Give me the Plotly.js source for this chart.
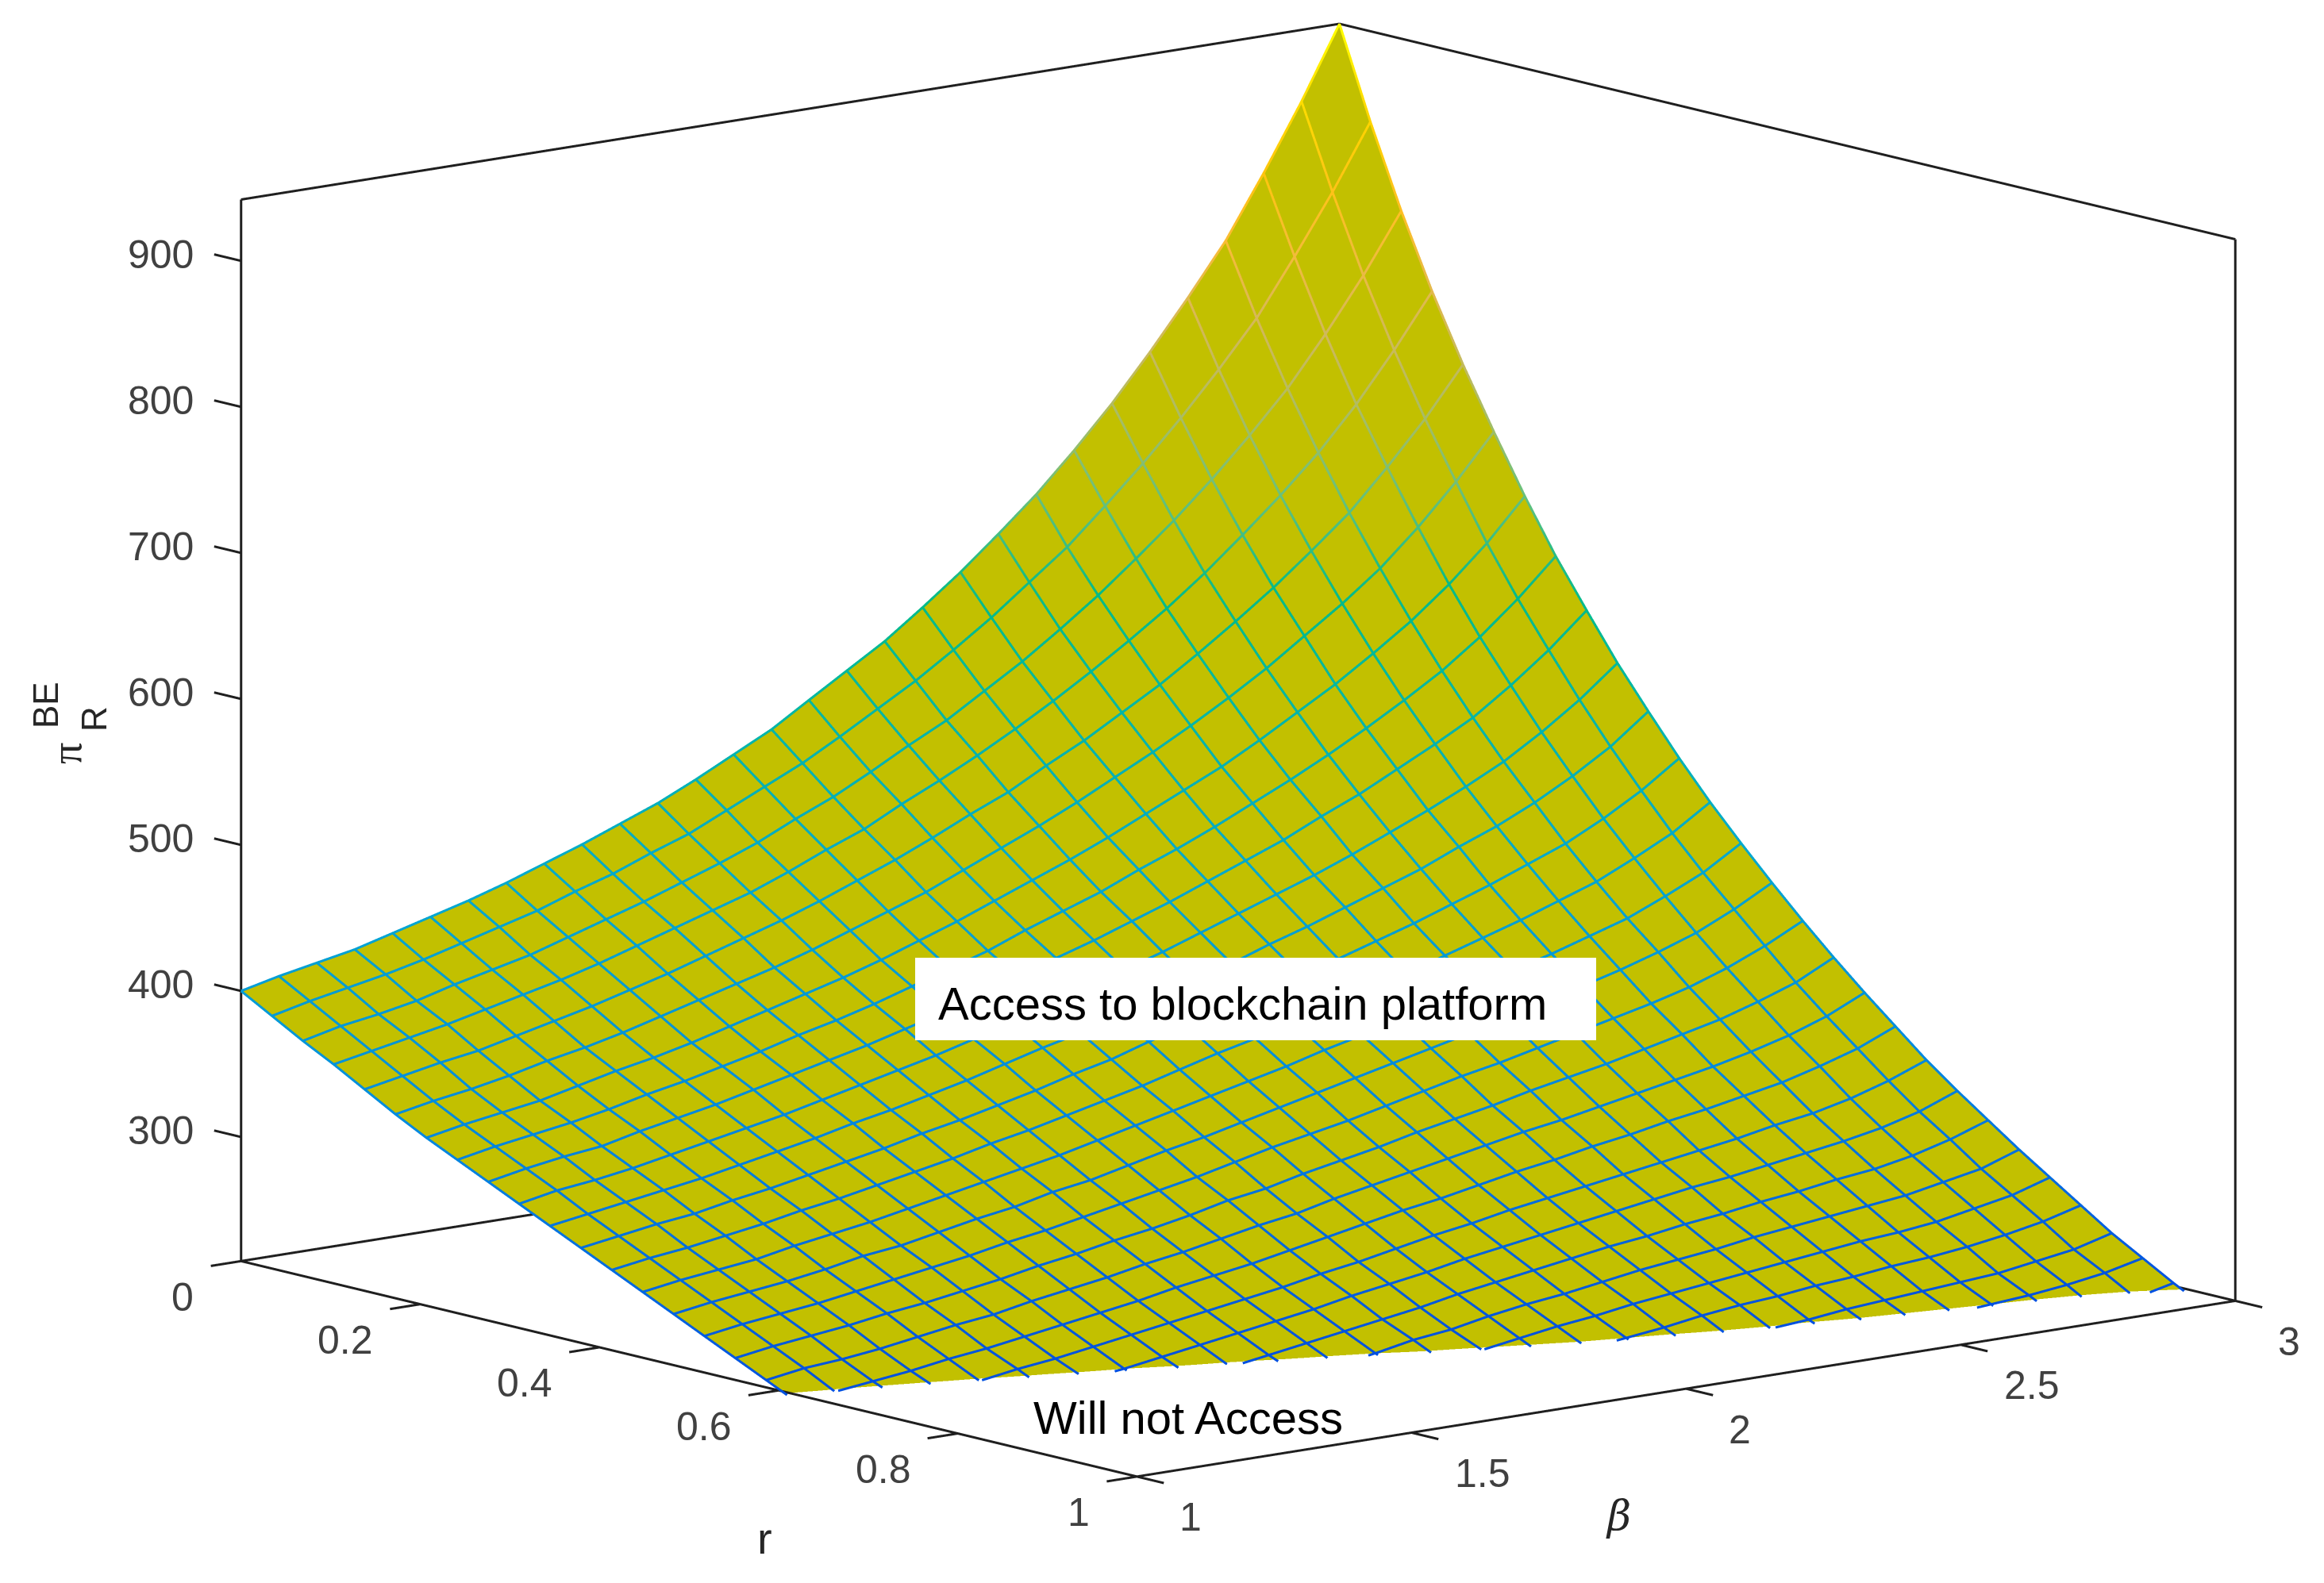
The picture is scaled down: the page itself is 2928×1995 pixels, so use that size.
<!DOCTYPE html>
<html>
<head>
<meta charset="utf-8">
<script src="https://cdn.plot.ly/plotly-3.0.1.min.js"></script>
<style>html,body{margin:0;padding:0;background:#fff}#chart{width:2928px;height:1995px}</style>
</head>
<body>
<div id="chart"></div>
<script>
var rValues = [0,.0345,.069,.1034,.1379,.1724,.2069,.2414,.2759,.3103,.3448,.3793,.4138,.4483,.4828,.5172,.5517,.5862,.6207,.6552,.6897,.7241,.7586,.7931,.8276,.8621,.8966,.931,.9655,1]
var betaValues = [1,1.069,1.138,1.207,1.276,1.345,1.414,1.483,1.552,1.621,1.69,1.759,1.828,1.897,1.966,2.034,2.103,2.172,2.241,2.31,2.379,2.448,2.517,2.586,2.655,2.724,2.793,2.862,2.931,3]
// one row per beta value, one column per r value
var profit = [
[400,388,376,365,353,341,330,320,310,300,290,280,270,260,250,240,230,220,210,201,192,183,175,167,160,153,146,139,133,127],
[406,394,382,370,358,346,335,325,315,305,294,284,274,264,254,244,234,224,213,204,195,186,178,170,163,156,149,142,135,129],
[411,399,386,375,363,350,339,329,319,308,298,288,277,267,257,247,237,226,216,207,198,189,181,172,165,158,151,144,137,131],
[416,404,391,380,367,355,343,333,322,312,302,291,281,270,260,250,240,229,219,210,200,191,183,175,167,160,153,146,139,133],
[423,410,398,386,373,361,349,338,328,317,306,296,285,275,264,254,244,233,223,213,204,195,186,178,170,163,156,148,142,136],
[430,417,404,392,379,366,355,344,333,322,311,300,290,279,269,258,247,237,226,217,207,198,190,181,173,166,158,151,144,138],
[437,424,410,398,385,372,360,349,338,327,316,305,294,283,272,262,251,240,230,220,211,201,193,184,176,168,161,153,147,140],
[445,431,418,405,392,379,366,355,344,332,321,310,299,288,277,266,255,245,234,224,214,205,196,187,179,171,164,156,149,143],
[454,440,426,413,399,386,373,361,350,338,327,315,304,293,282,271,260,249,238,228,218,209,200,191,183,175,167,159,152,145],
[463,448,434,421,407,393,380,368,356,344,332,321,309,298,286,275,264,253,242,232,222,212,203,194,186,178,170,162,155,148],
[473,458,443,429,415,400,387,374,362,350,338,326,315,303,292,280,269,258,247,236,226,216,207,198,189,181,173,165,158,151],
[483,467,452,437,423,408,394,381,369,356,344,332,320,308,296,285,273,262,251,240,230,220,210,201,193,184,176,168,160,153],
[495,479,462,447,432,417,402,389,376,363,351,338,326,314,302,290,278,267,255,244,234,224,214,205,196,187,179,171,163,156],
[508,491,474,458,442,426,411,397,384,371,358,345,332,320,308,295,284,272,260,249,239,228,219,209,200,191,183,174,167,159],
[521,503,485,468,452,435,420,405,392,378,364,351,338,326,313,301,288,276,265,253,243,232,222,213,203,194,186,177,169,161],
[537,517,498,481,463,446,430,415,401,386,372,359,345,332,319,307,294,282,270,258,247,237,227,217,207,198,189,180,172,164],
[553,532,512,493,475,457,440,424,409,394,380,366,352,338,325,312,299,287,275,263,252,241,231,221,211,201,192,183,175,167],
[569,547,525,506,486,468,450,433,418,402,387,372,358,344,331,317,304,292,279,267,256,245,234,224,214,204,195,186,178,169],
[588,564,541,520,500,480,461,444,427,411,395,380,365,351,337,323,310,297,284,272,260,249,238,228,217,207,198,189,180,172],
[608,582,557,535,513,493,473,454,437,420,404,388,372,357,343,329,315,302,289,276,264,253,242,231,221,210,201,191,183,174],
[630,602,575,551,528,506,485,465,447,429,412,395,379,364,349,335,320,307,293,280,268,256,245,234,224,213,203,194,185,176],
[653,622,594,568,543,520,497,477,457,438,421,403,386,371,355,340,326,311,298,284,272,260,248,237,226,215,206,196,187,178],
[679,646,615,586,560,535,511,489,469,448,430,411,394,378,362,346,331,316,302,288,276,263,252,240,229,218,208,198,189,179],
[707,671,637,606,578,551,526,502,480,459,439,420,402,385,368,352,336,321,307,292,279,267,255,243,231,220,210,199,190,181],
[738,698,661,628,597,569,541,516,493,470,450,429,410,392,375,358,342,326,311,296,283,270,258,246,234,222,212,201,192,182],
[771,727,687,651,618,587,558,531,506,482,460,439,419,400,382,364,348,331,316,301,287,274,261,248,236,224,214,203,193,183],
[806,758,715,676,640,607,576,547,520,495,472,449,428,408,390,371,354,337,321,305,291,277,264,251,239,226,216,205,195,185],
[848,796,748,705,667,631,597,566,538,511,486,462,440,419,399,380,362,344,328,311,296,282,269,256,243,230,219,207,197,187],
[893,836,784,738,696,658,621,588,558,529,502,477,453,431,411,391,371,353,336,319,303,289,274,261,248,234,223,211,200,190],
[942,880,824,774,729,688,649,613,581,550,522,495,470,447,425,404,384,365,347,329,313,298,283,269,255,241,229,217,206,195]
]
var rTicks = [0,0.2,0.4,0.6,0.8,1]
var betaTicks = [1,1.5,2,2.5,3]
var profitTicks = [300,400,500,600,700,800,900]

var zFloor = 215, zTop = 942, zRangeLow = 214, zRangeTop = 950
var boxColor = '#1f1f1f', labelColor = '#404040'
var eye = {x: 0.7598, y: -0.6197, z: 0.1962}
var camDist = 2
var W = 2928, H = 1995

var meshScale = [
  [0,'#0050E0'],[0.16,'#0088E0'],[0.31,'#00A8D0'],[0.45,'#00B8A0'],[0.52,'#00BA88'],
  [0.59,'#60C080'],[0.67,'#B0BC60'],[0.75,'#D8B858'],[0.82,'#FFBC30'],[0.89,'#FFC800'],
  [0.97,'#FFF000'],[1,'#FFFF00']
]

// small lift towards the camera so the mesh does not fight with the surface
var lift = 0.004
function addPoint(t, r, b, z) {
  t.x.push(r + eye.x * lift)
  t.y.push(b + eye.y * lift * 2)
  t.z.push(z + eye.z * lift * 950)
  t.c.push(z)
}
function gap(t) {
  t.x.push(null); t.y.push(null); t.z.push(null); t.c.push(null)
}

var mesh = {x: [], y: [], z: [], c: []}
for (var k = 0; k < rValues.length; k++) {
  for (var i = 0; i < betaValues.length; i++) addPoint(mesh, rValues[k], betaValues[i], profit[i][k])
  gap(mesh)
}
for (var i = 0; i < betaValues.length; i++) {
  for (var k = 0; k < rValues.length; k++) addPoint(mesh, rValues[k], betaValues[i], profit[i][k])
  gap(mesh)
}

// box edges and tick marks, each one its own trace
var boxTraces = []
function seg(r0, b0, z0, r1, b1, z1) {
  boxTraces.push({
    type: 'scatter3d', mode: 'lines', x: [r0, r1], y: [b0, b1], z: [z0, z1], hoverinfo: 'skip',
    line: {width: 6, color: boxColor}
  })
}
seg(0,1,zFloor, 1,1,zFloor)
seg(1,1,zFloor, 1,3,zFloor)
seg(0,1,zFloor, 0,3,zFloor)
seg(0,3,zFloor, 1,3,zFloor)
seg(0,1,zFloor, 0,1,zTop)
seg(1,3,zFloor, 1,3,zTop)
seg(0,3,zFloor, 0,3,zTop)
seg(0,1,zTop, 0,3,zTop)
seg(0,3,zTop, 1,3,zTop)
rTicks.forEach(function(t) { seg(t,1,zFloor, t,0.945,zFloor) })
betaTicks.forEach(function(t) { seg(1,t,zFloor, 1.03,t,zFloor) })
profitTicks.forEach(function(t) { seg(0,1,t, -0.03,1,t) })

var data = [
  {
    type: 'surface', x: rValues, y: betaValues, z: profit,
    colorscale: [[0,'#C2C000'],[1,'#C2C000']], showscale: false, hoverinfo: 'skip',
    lighting: {ambient: 1, diffuse: 0, specular: 0, roughness: 1, fresnel: 0},
    contours: {x: {highlight: false}, y: {highlight: false}, z: {highlight: false}}
  },
  {
    type: 'scatter3d', mode: 'lines', x: mesh.x, y: mesh.y, z: mesh.z, hoverinfo: 'skip',
    line: {width: 6, color: mesh.c, colorscale: meshScale, cmin: zFloor, cmax: zTop}
  }
].concat(boxTraces)

var sceneLabels = []
function tickLabel(r, b, z, text, sx, sy, anchor) {
  sceneLabels.push({x: r, y: b, z: z, text: text, showarrow: false, xshift: sx, yshift: sy,
    xanchor: anchor, font: {family: 'Liberation Sans', size: 50, color: labelColor}})
}
rTicks.forEach(function(t) { tickLabel(t, 1, zFloor, String(t), (t == 0 || t == 1) ? -73 : -94, -45, 'center') })
betaTicks.forEach(function(t) { tickLabel(1, t, zFloor, String(t), (t % 1 == 0) ? 68 : 90, -51, 'center') })
profitTicks.forEach(function(t) { tickLabel(0, 1, t, String(t), -57, 8, 'right') })

function note(px, py, text, size, extra) {
  var a = {xref: 'paper', yref: 'paper', x: px / W, y: 1 - py / H, text: text, showarrow: false,
    xanchor: 'center', yanchor: 'middle', font: {family: 'Liberation Sans', size: size, color: '#000'}}
  for (var key in extra) a[key] = extra[key]
  return a
}

var layout = {
  width: W, height: H,
  margin: {t: 0, r: 0, b: 0, l: 0},
  paper_bgcolor: '#fff',
  showlegend: false,
  hovermode: false,
  scene: {
    domain: {x: [0.0655, 1], y: [0.0584, 1]},
    aspectmode: 'manual',
    aspectratio: {x: 2.092, y: 2.092, z: 1.471},
    camera: {
      projection: {type: 'orthographic'},
      up: {x: 0, y: 0, z: 1},
      center: {x: 0, y: 0, z: 0},
      eye: {x: eye.x * camDist, y: eye.y * camDist, z: eye.z * camDist}
    },
    xaxis: {range: [-0.05, 1.05], visible: false, showspikes: false},
    yaxis: {range: [0.9, 3.1], visible: false, showspikes: false},
    zaxis: {range: [zRangeLow, zRangeTop], visible: false, showspikes: false},
    annotations: sceneLabels
  },
  shapes: [
    {type: 'rect', xref: 'paper', yref: 'paper', layer: 'above', x0: 1153 / W, x1: 2011 / W,
      y0: 1 - 1311 / H, y1: 1 - 1207 / H, fillcolor: '#fff', line: {width: 0}}
  ],
  annotations: [
    note(963, 1938, 'r', 56, {font: {family: 'Liberation Sans', size: 56, color: '#262626'}}),
    note(2039, 1910, '<i>β</i>', 58, {font: {family: 'DejaVu Serif', size: 52, color: '#262626'}}),
    note(84, 950, 'π', 50, {textangle: -90, font: {family: 'Liberation Serif', size: 54, color: '#262626'}}),
    note(57, 889, 'BE', 44, {textangle: -90, font: {family: 'Liberation Sans', size: 44, color: '#262626'}}),
    note(119, 906, 'R', 44, {textangle: -90, font: {family: 'Liberation Sans', size: 44, color: '#262626'}}),
    note(1565.5, 1264, 'Access to blockchain platform', 58, {}),
    note(1497, 1786, 'Will not Access', 58, {})
  ]
}

Plotly.newPlot('chart', data, layout, {displayModeBar: false})
</script>
</body>
</html>
